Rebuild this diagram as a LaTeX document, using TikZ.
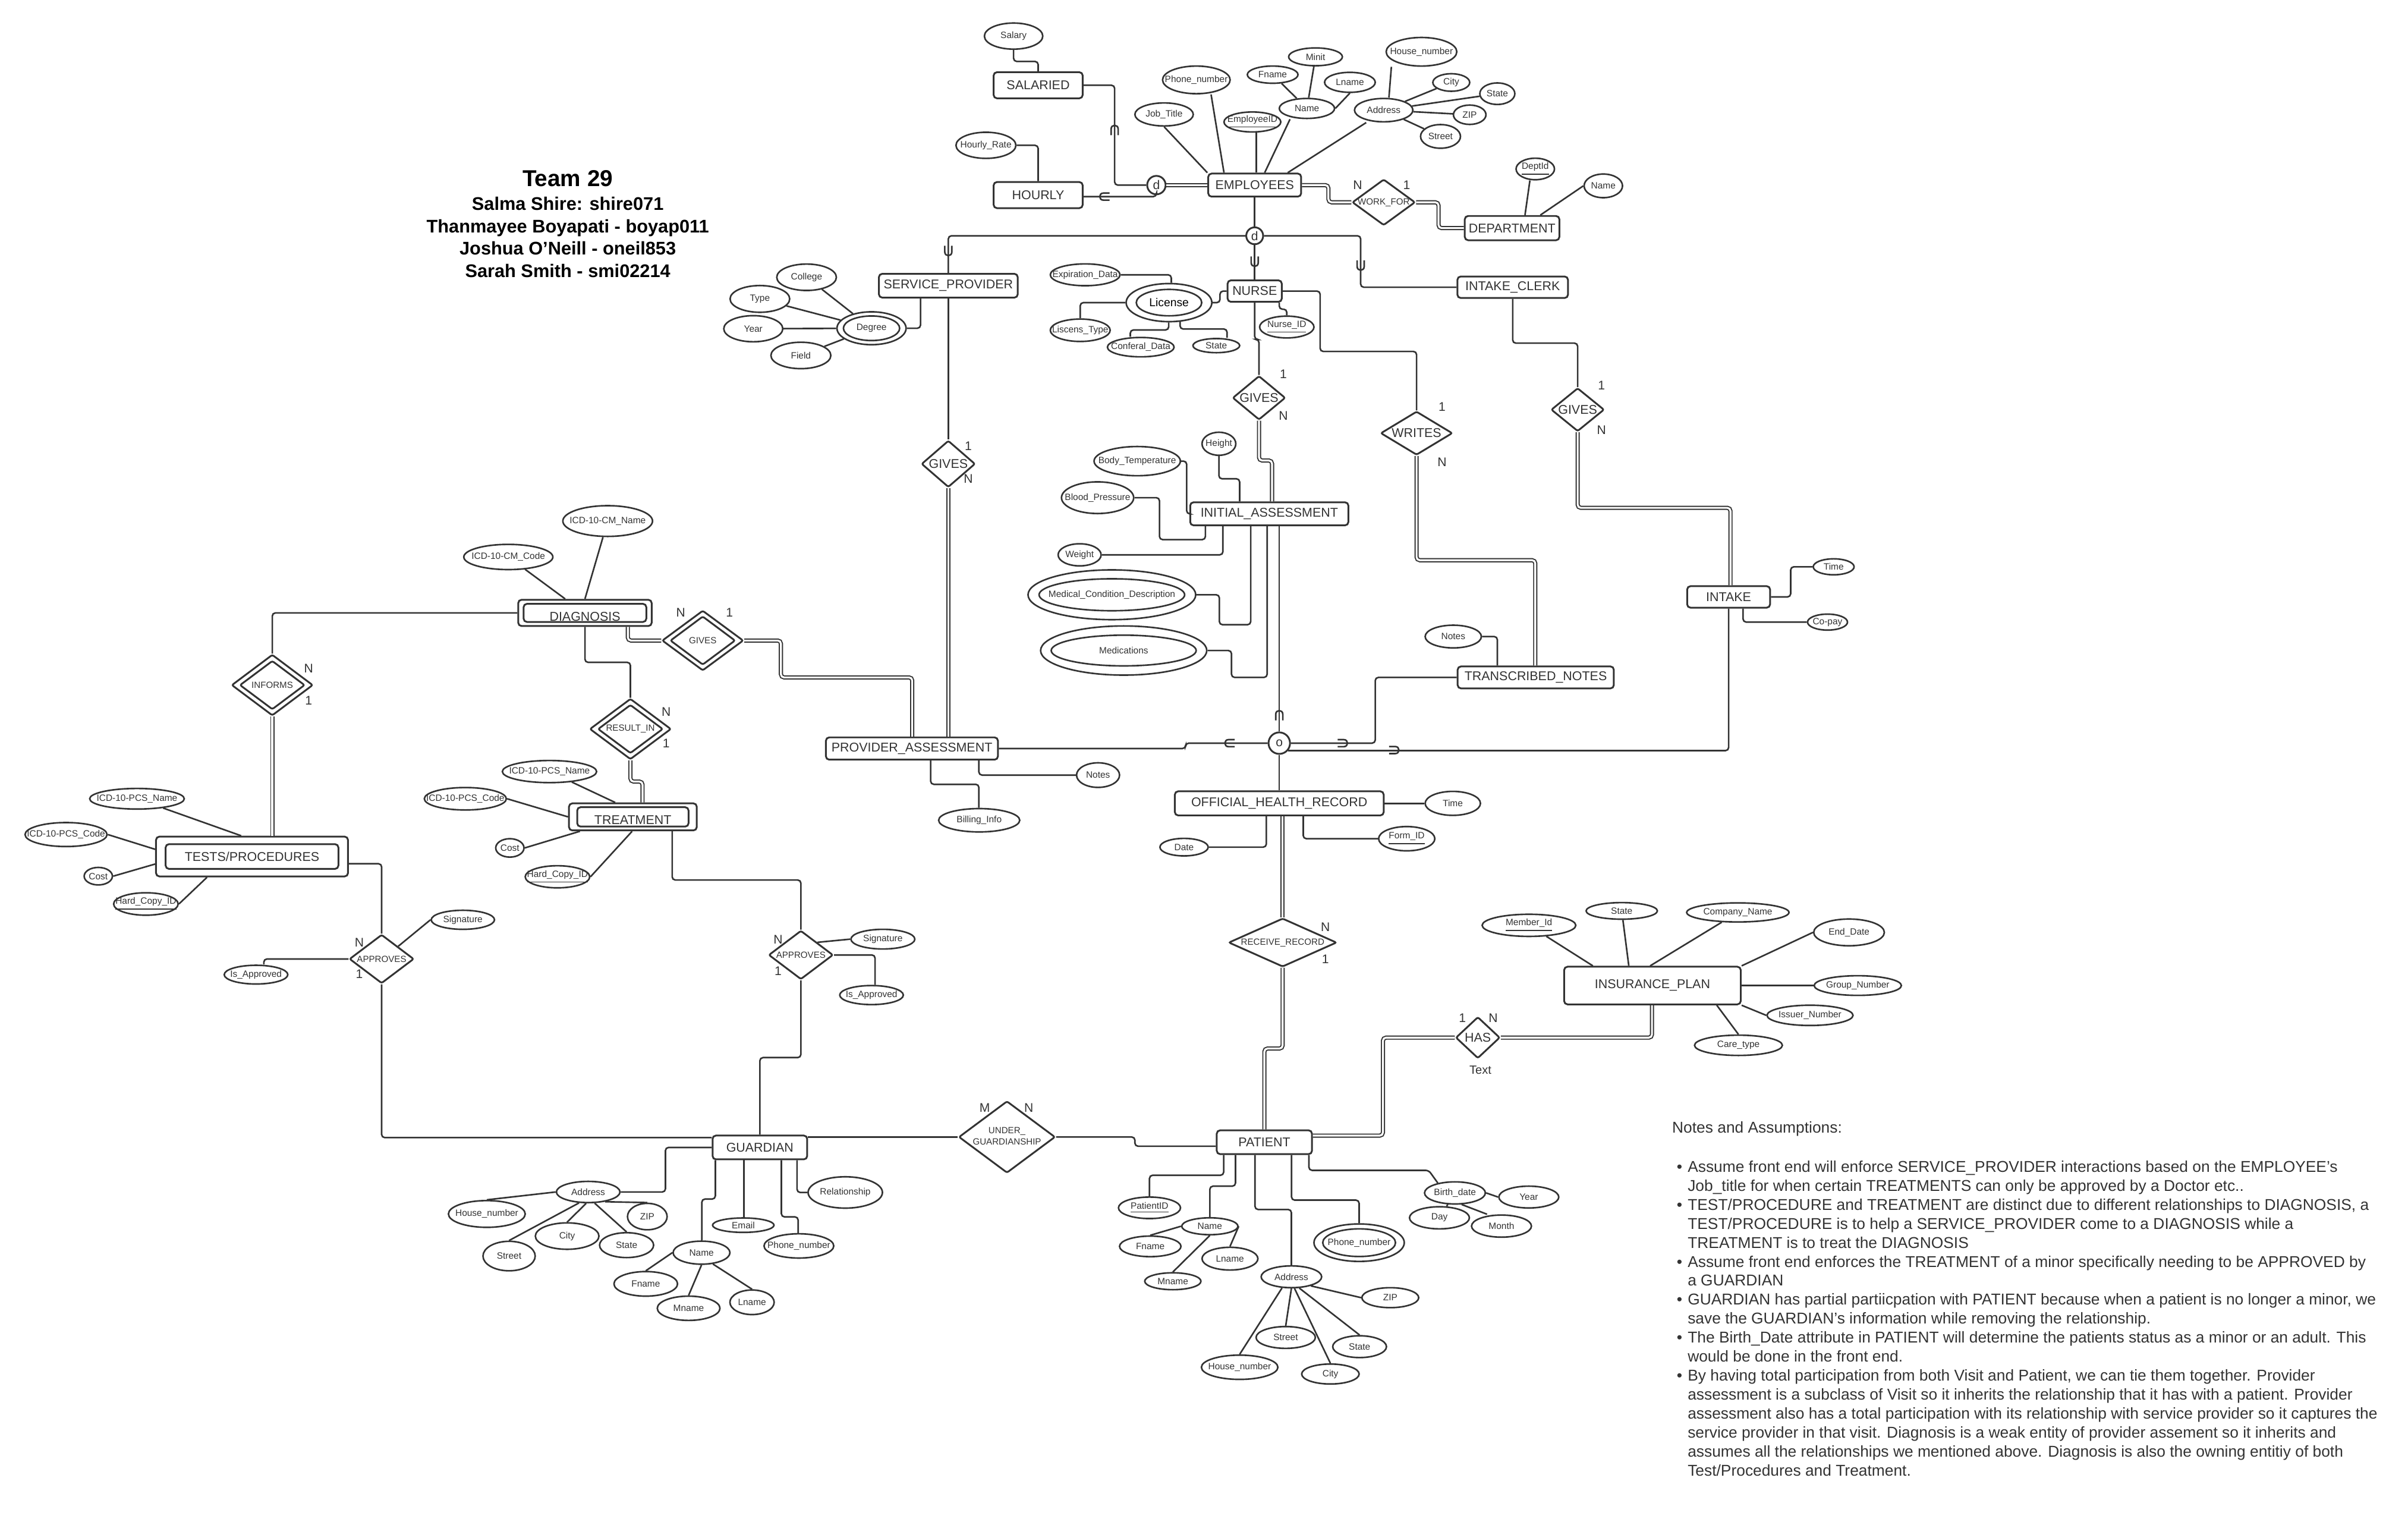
\documentclass[tikz,border=0pt]{standalone}
\usepackage{fontspec}
\setmainfont{Liberation Sans}
\usetikzlibrary{shapes.geometric}
\definecolor{ink}{RGB}{51,51,51}
\newdimen\uu
\uu=0.73508pt
\newcommand\mb[1]{\makebox[0pt]{#1}}
\newcommand\fent{\fontsize{6.1}{7.2}\selectfont}
\newcommand\fatt{\fontsize{4.4}{5.2}\selectfont}
\newcommand\fsml{\fontsize{4.3}{5.2}\selectfont}
\newcommand\fcrd{\fontsize{6}{7}\selectfont}
\newcommand\fnote{\fontsize{7.5}{9.08}\selectfont}
\newcommand\nbul{\llap{\textbullet\hspace{2.6pt}}}
\newcommand\mkent[5]{\node[ent,minimum width=#4\uu,minimum height=#5\uu] (#1) at (#2) {\mb{#3}};}
\newcommand\mkatt[5]{\node[att,minimum width=#3\uu,minimum height=#4\uu] (#1) at (#2) {\mb{#5}};}
\newcommand\mkrel[6]{\node[#6,minimum width=#3\uu,minimum height=#4\uu] (#1) at (#2) {\mb{#5}};}
\newcommand\mkcrd[3]{\node[crd] (#1) at (#2) {#3};}
\tikzset{
  ln/.style={draw=ink,line width=0.75pt,rounded corners=1.5pt},
  dl/.style={draw=ink,line width=0.55pt,double=white,double distance=0.9pt,rounded corners=1.5pt},
  ent/.style={draw=ink,line width=0.85pt,rounded corners=1.6pt,inner sep=0pt,text=ink,font=\fent},
  att/.style={draw=ink,ellipse,line width=0.75pt,inner sep=0pt,text=ink,font=\fatt},
  rel/.style={draw=ink,diamond,line width=0.85pt,rounded corners=0.8pt,inner sep=0pt,text=ink,font=\fent},
  srel/.style={rel,font=\fsml},
  crd/.style={inner sep=0pt,text=ink,font=\fcrd},
  disc/.style={draw=ink,circle,line width=0.85pt,inner sep=0pt,text=ink,font=\fontsize{6}{7}\selectfont},
  pics/subs/.style={code={\draw[draw=ink,line width=0.75pt] (-2.3,-4) -- (-2.3,0) .. controls (-2.3,3.2) and (2.3,3.2) .. (2.3,0) -- (2.3,-4);}},
}
\begin{document}
\begin{tikzpicture}[x=0.73508pt,y=-0.73508pt]
\path[use as bounding box,fill=white] (0,0) rectangle (1568,994.7);

% ---------- Title ----------
\node[anchor=base,inner sep=0pt,font=\bfseries\fontsize{11}{13}\selectfont] (tteam) at (369.7,121.5) {Team 29};
\node[anchor=base,inner sep=0pt,font=\bfseries\fontsize{8.75}{10}\selectfont] (tm1) at (369.7,137) {Salma Shire: shire071};
\node[anchor=base,inner sep=0pt,font=\bfseries\fontsize{8.75}{10}\selectfont] (tm2) at (369.7,151.4) {Thanmayee Boyapati - boyap011};
\node[anchor=base,inner sep=0pt,font=\bfseries\fontsize{8.75}{10}\selectfont] (tm3) at (369.7,165.8) {Joshua O’Neill - oneil853};
\node[anchor=base,inner sep=0pt,font=\bfseries\fontsize{8.75}{10}\selectfont] (tm4) at (369.7,180.4) {Sarah Smith - smi02214};

% ---------- EMPLOYEES ----------
\mkent{emp}{817,120.5}{EMPLOYEES}{60.5}{15}
\mkent{sal}{676,55.5}{SALARIED}{58}{17}
\mkent{hourly}{676,127}{HOURLY}{58}{17}
\mkatt{salary}{660,23.5}{38}{17}{Salary}
\mkatt{hrate}{642,94.6}{39}{17}{Hourly\_Rate}
\node[disc,minimum size=12\uu] (d1) at (753,120.5) {d};
\mkatt{jobt}{758,74.5}{38}{15}{Job\_Title}
\mkatt{phone}{779,52}{44}{18}{Phone\_number}
\mkatt{empid}{815.5,79.4}{37}{13}{\underline{EmployeeID}}
\mkatt{ename}{851,70.6}{36}{13}{Name}
\mkatt{efname}{828.7,48.6}{33}{11.2}{Fname}
\mkatt{eminit}{856.6,37}{35}{11.6}{Minit}
\mkatt{elname}{879,53.6}{33}{13}{Lname}
\mkatt{eaddr}{901,71.7}{38}{15.2}{Address}
\mkatt{ehouse}{925.6,33.7}{46}{18.6}{House\_number}
\mkatt{ecity}{945,53.7}{24}{11.4}{City}
\mkatt{estate}{975,61}{22.8}{14}{State}
\mkatt{ezip}{957,74.7}{21.2}{12.6}{ZIP}
\mkatt{estreet}{938,88.8}{26}{15.4}{Street}
\mkrel{wf}{901,131.7}{41}{30}{WORK\_FOR}{srel}
\mkent{dept}{984.6,148.5}{DEPARTMENT}{61.6}{15.8}
\mkatt{deptid}{999.7,110}{25}{14}{\underline{DeptId}}
\mkatt{dname}{1044,121}{25}{15.4}{Name}
\mkcrd{k1}{884,120.6}{N}
\mkcrd{k2}{916,120.6}{1}

\draw[ln] (salary.south) |- (676,40) -- (sal.north);
\draw[ln] (hrate.east) -| (hourly.north);
\draw[ln] (sal.east) -| (725.8,120.5) -- (d1.west);
\draw[ln] (hourly.east |- 0,128) -| (d1.south);
\draw[dl] (d1.east) -- (emp.west);
\pic[rotate=180] at (725.8,84) {subs};
\pic[rotate=-90] at (718.5,128) {subs};
\draw[ln] (jobt.south) -- (emp.north west);
\draw[ln] (phone.south -| 788.6,0) -- (emp.north -| 797,0);
\draw[ln] (empid.south -| 818,0) -- (emp.north -| 818,0);
\draw[ln] (ename.south -| 840,0) -- (emp.north -| 823.5,0);
\draw[ln] (eaddr.south -| 889.6,0) -- (emp.north -| 838.5,0);
\draw[ln] (efname) -- (ename);
\draw[ln] (eminit) -- (ename);
\draw[ln] (elname.south) -- (ename.east);
\draw[ln] (ehouse.south -| 906,0) -- (eaddr.north -| 904.4,0);
\draw[ln] (ecity) -- (eaddr);
\draw[ln] (estate) -- (eaddr);
\draw[ln] (ezip) -- (eaddr);
\draw[ln] (estreet) -- (eaddr);
\draw[dl] (emp.east) -| (865,131.7) -- (wf.west);
\draw[dl] (wf.east) -| (936.7,148.5) -- (dept.west);
\draw[ln] (deptid.south -| 996.2,0) -- (dept.north -| 993,0);
\draw[ln] (dname.west) -- (dept.north -| 1003,0);

% ---------- specialization ----------
\node[disc,minimum size=11\uu] (d2) at (817,153.5) {d};
\mkent{sp}{617.5,186}{SERVICE\_PROVIDER}{90.4}{15.5}
\mkent{nurse}{817,189.5}{NURSE}{35.3}{14}
\mkent{ic}{985,187}{INTAKE\_CLERK}{72}{14}
\draw[ln] (emp.south) -- (d2.north);
\draw[ln] (d2.west) -| (sp.north);
\draw[ln] (d2.south) -- (nurse.north);
\draw[ln] (d2.east) -| (886,187) -- (ic.west);
\pic at (617.5,164) {subs};
\pic at (817,171) {subs};
\pic at (886,173.5) {subs};

% ---------- SERVICE_PROVIDER ----------
\mkatt{deg}{567.5,213.7}{45}{21.4}{}
\mkatt{degI}{567.5,213.7}{36.6}{16}{Degree}
\mkatt{college}{525.2,180.5}{38.8}{17.2}{College}
\mkatt{ttype}{494.8,194.6}{38.8}{17.4}{Type}
\mkatt{year}{490.5,214}{38.4}{17}{Year}
\mkatt{field}{521.5,231.4}{39}{17.2}{Field}
\mkrel{gsp}{617.5,302}{35}{30.4}{GIVES}{rel}
\mkcrd{k3}{630.5,290.2}{1}
\mkcrd{k4}{630.5,311.6}{N}
\draw[ln] (deg.east) -| (sp.south -| 599.4,0);
\draw[ln] (college) -- (deg);
\draw[ln] (ttype) -- (deg);
\draw[ln] (year) -- (deg);
\draw[ln] (field) -- (deg);
\draw[ln] (sp.south) -- (gsp.north);

% ---------- NURSE ----------
\mkatt{lic}{761.2,197}{55.8}{24.8}{}
\node[att,minimum width=42.6\uu,minimum height=17.2\uu,text=black,font=\fontsize{5.5}{6.5}\selectfont] (licI) at (761.2,197) {\mb{License}};
\mkatt{expd}{706.6,178.9}{45.4}{14.2}{Expiration\_Data}
\mkatt{ltype}{703.4,215}{39}{14.6}{Liscens\_Type}
\mkatt{cdata}{742.8,226}{43.4}{12.6}{Conferal\_Data}
\mkatt{lstate}{792,225}{30.4}{9.2}{State}
\mkatt{nid}{837.9,212.9}{35.4}{14.2}{\underline{Nurse\_ID}}
\draw[ln] (lic.east) -| (794.4,189.5) -- (nurse.west);
\draw[ln] (expd.east) -| (lic.north -| 762.7,0);
\draw[ln] (ltype.north) |- (lic.west);
\draw[ln] (cdata.north -| 736,0) |- (761,214.8) -- (lic.south -| 761,0);
\draw[ln] (lic.-60) |- (799,214.2) -- (lstate.north -| 799,0);
\draw[ln] (nurse.south -| 833,0) |- (837.9,201.3) -- (nid.north);
\mkrel{gn}{819.8,259}{34.4}{28.6}{GIVES}{rel}
\mkcrd{k5}{835.7,243.4}{1}
\mkcrd{k6}{835.7,270.6}{N}
\draw[ln] (nurse.south) |- (819.8,221) -- (gn.north);

% ---------- INITIAL_ASSESSMENT ----------
\mkent{ia}{826.5,334.5}{INITIAL\_ASSESSMENT}{103}{15}
\mkatt{height}{793.7,288.9}{22}{15}{Height}
\mkatt{btemp}{740.5,300.2}{56.2}{19}{Body\_Temperature}
\mkatt{bp}{714.7,324}{47}{20.6}{Blood\_Pressure}
\mkatt{weight}{703,361.2}{28}{14.4}{Weight}
\mkatt{mcd}{724,387.2}{109.2}{32.4}{}
\mkatt{mcdI}{724,387.2}{94.8}{20.8}{Medical\_Condition\_Description}
\mkatt{meds}{731.7,423.5}{108.2}{32}{}
\mkatt{medsI}{731.7,423.5}{94.4}{20}{Medications}
\draw[dl] (gn.south) |- (828.3,299.8) -- (ia.north -| 828.3,0);
\draw[ln] (height.south) |- (807.2,311.7) -- (ia.north -| 807.2,0);
\draw[ln] (btemp.east) -| (772.7,334.5) -- (ia.west);
\draw[ln] (bp.east) -| (755,351.3) -| (ia.south -| 784.9,0);
\draw[ln] (weight.east) -| (ia.south -| 796.3,0);
\draw[ln] (mcd.east) -| (794,406.7) -| (ia.south -| 814.4,0);
\draw[ln] (meds.east) -| (801.9,441) -| (ia.south -| 825.1,0);

% ---------- WRITES / TRANSCRIBED_NOTES ----------
\mkrel{wr}{922.4,282}{46.8}{28.4}{WRITES}{rel}
\mkcrd{k7}{939,264.8}{1}
\mkcrd{k8}{939,301}{N}
\mkent{tn}{1000,441}{TRANSCRIBED\_NOTES}{101.7}{14.3}
\mkatt{tnnotes}{946.3,414.4}{36.6}{14.8}{Notes}
\draw[ln] (nurse.east) -| (859.6,228.8) -| (wr.north);
\draw[dl] (wr.south) |- (999.7,364.7) -- (tn.north -| 999.7,0);
\draw[ln] (tnnotes.east) -| (tn.north -| 975,0);

% ---------- INTAKE ----------
\mkrel{gc}{1027.3,266.7}{34.6}{28.2}{GIVES}{rel}
\mkcrd{k9}{1042.8,251}{1}
\mkcrd{k10}{1042.8,280}{N}
\mkent{intake}{1125.6,388.6}{INTAKE}{54}{14}
\mkatt{itime}{1194,369}{26.6}{10.4}{Time}
\mkatt{copay}{1190,405}{26}{10.4}{Co-pay}
\draw[ln] (ic.south) |- (1027.3,223.4) -- (gc.north);
\draw[dl] (gc.south) |- (1126.8,330.6) -- (intake.north -| 1126.8,0);
\draw[ln] (intake.east) -| (1166,369) -- (itime.west);
\draw[ln] (intake.south -| 1135,0) |- (copay.west);

% ---------- overlap circle ----------
\node[disc,minimum size=14\uu] (oc) at (833,483.8) {o};
\mkent{pa}{593.8,487.3}{PROVIDER\_ASSESSMENT}{112}{14.5}
\mkatt{panotes}{715,504.6}{28}{16}{Notes}
\mkatt{bill}{637.6,534}{52.8}{15.2}{Billing\_Info}
\draw[ln] (ia.south -| 833,0) -- (oc.north);
\pic[rotate=180] at (833,465) {subs};
\draw[ln] (tn.west) -| (895.5,483.8) -- (oc.east);
\pic[rotate=90] at (875,483.8) {subs};
\draw[ln] (intake.south) |- (oc.-40);
\pic[rotate=90] at (908.5,488.3) {subs};
\draw[ln] (pa.east) -| (772,483.8) -- (oc.west);
\pic[rotate=-90] at (800,483.8) {subs};
\draw[dl] (gsp.south) -- (pa.north -| gsp.south);
\draw[ln] (pa.south -| 637.4,0) |- (panotes.west);
\draw[ln] (pa.south -| 606,0) |- (637.4,510.6) -- (bill.north -| 637.4,0);

% ---------- OFFICIAL_HEALTH_RECORD ----------
\mkent{ohr}{833,523}{OFFICIAL\_HEALTH\_RECORD}{136}{15.7}
\mkatt{otime}{946,523}{36}{15.6}{Time}
\mkatt{formid}{916,546}{36.6}{15.8}{\underline{Form\_ID}}
\mkatt{date}{771,551.5}{31.4}{11.4}{Date}
\mkrel{rr}{835.2,613.6}{70.4}{31.6}{RECEIVE\_RECORD}{srel}
\mkcrd{k11}{863,603.5}{N}
\mkcrd{k12}{863,624.4}{1}
\draw[ln] (oc.south) -- (ohr.north);
\draw[ln] (ohr.east) -- (otime.west);
\draw[ln] (ohr.south -| 848.6,0) |- (formid.west);
\draw[ln] (ohr.south -| 824.6,0) |- (date.east);
\draw[dl] (ohr.south -| rr.north) -- (rr.north);

% ---------- PATIENT / INSURANCE ----------
\mkent{pat}{823.3,743.6}{PATIENT}{62}{15.5}
\mkrel{has}{962.3,675.5}{28.8}{27}{HAS}{rel}
\mkcrd{k13}{952.3,662.8}{1}
\mkcrd{k14}{972.3,662.8}{N}
\node[crd,font=\fontsize{5.7}{6.5}\selectfont] (hastext) at (964,696.7) {Text};
\mkent{ip}{1076,641.6}{INSURANCE\_PLAN}{115}{24.5}
\mkatt{memid}{995.6,602.4}{61}{14.4}{\underline{Member\_Id}}
\mkatt{ipstate}{1056,593}{46.4}{10.8}{State}
\mkatt{comp}{1131.6,594}{66.6}{12.4}{Company\_Name}
\mkatt{enddate}{1204,607}{46}{17.4}{End\_Date}
\mkatt{grp}{1209.7,641.6}{56.8}{12.8}{Group\_Number}
\mkatt{issuer}{1178.6,661}{56}{13.2}{Issuer\_Number}
\mkatt{caret}{1132,680.5}{57.2}{13.2}{Care\_type}
\draw[dl] (rr.south) |- (823.3,682.6) -- (pat.north);
\draw[dl] (pat.east |- 0,739.3) -| (900.5,675.5) -- (has.west);
\draw[dl] (has.east) -| (ip.south -| 1075.7,0);
\draw[ln] (memid) -- (ip.north -| 1037.2,0);
\draw[ln] (ipstate) -- (ip.north -| 1060.6,0);
\draw[ln] (comp) -- (ip.north -| 1074.5,0);
\draw[ln] (enddate.west) -- (ip.north east);
\draw[ln] (ip.east) -- (grp.west);
\draw[ln] (ip.south east) -- (issuer.west);
\draw[ln] (caret.north) -- (ip.south -| 1117.9,0);

% ---------- PATIENT attributes ----------
\mkatt{pid}{748.5,786.3}{40.4}{14}{\underline{PatientID}}
\mkatt{pname}{787.8,798.3}{36.6}{11}{Name}
\mkatt{pfname}{749,811.4}{40}{13.4}{Fname}
\mkatt{pmname}{763.7,834.1}{36.6}{11}{Mname}
\mkatt{plname}{800.9,819.4}{36.4}{14.8}{Lname}
\mkatt{paddr}{840.9,831.2}{39.4}{14.2}{Address}
\mkatt{phouse}{807.2,890.1}{49.8}{15.8}{House\_number}
\mkatt{pstreet}{837.2,870.7}{38.6}{14.2}{Street}
\mkatt{pcity}{866.3,894.5}{37.4}{13}{City}
\mkatt{pstate}{885.3,876.7}{35}{14.2}{State}
\mkatt{pzip}{905.3,844.8}{37}{13}{ZIP}
\mkatt{pphone}{885,809}{58.8}{24.4}{}
\mkatt{pphoneI}{885,809}{47.4}{18}{Phone\_number}
\mkatt{bdate}{947.4,776.6}{39.6}{14.4}{Birth\_date}
\mkatt{pyear}{995.5,779.3}{39}{14.2}{Year}
\mkatt{pday}{937.3,792.8}{39}{14.4}{Day}
\mkatt{pmonth}{977.7,798.2}{39}{14.4}{Month}
\draw[ln] (pat.south -| 796.8,0) |- (748.5,765.1) -- (pid.north);
\draw[ln] (pat.south -| 804.5,0) |- (787.8,772.2) -- (pname.north);
\draw[ln] (pname.west) -- (pfname.north);
\draw[ln] (pname.south) -- (pmname.north);
\draw[ln] (pname.east) -- (plname.north);
\draw[ln] (pat.south -| 817.2,0) |- (840.9,787.4) -- (paddr.north);
\draw[ln] (paddr.-130) -- (phouse.north);
\draw[ln] (paddr.south) -- (pstreet.north);
\draw[ln] (paddr.-75) -- (pcity.north);
\draw[ln] (paddr.-55) -- (pstate.north);
\draw[ln] (paddr.-25) -- (pzip.west);
\draw[ln] (pat.south -| 841,0) |- (885,781.3) -- (pphone.north);
\draw[ln] (pat.south -| 852.3,0) |- (930.3,761.9) -- (bdate.150);
\draw[ln] (bdate.east) -- (pyear.west);
\draw[ln] (bdate) -- (pday);
\draw[ln] (bdate.-60) -- (pmonth.north -| 968.3,0);

% ---------- DIAGNOSIS ----------
\node[ent,minimum width=86.9\uu,minimum height=17.1\uu] (diag) at (380.9,399) {};
\node[ent,minimum width=79.9\uu,minimum height=11.8\uu] (diagI) at (380.9,399) {};
\node[inner sep=0pt,text=ink,font=\fent] (diagT) at (380.9,401.5) {DIAGNOSIS};
\mkatt{cmname}{395.7,339.2}{58.4}{20}{ICD-10-CM\_Name}
\mkatt{cmcode}{331,362.6}{58}{16.4}{ICD-10-CM\_Code}
\mkrel{gd}{457.6,417}{53}{39.2}{}{rel}
\mkrel{gdI}{457.6,417}{42.4}{31.7}{GIVES}{srel}
\mkcrd{k15}{443.3,398.9}{N}
\mkcrd{k16}{475,398.9}{1}
\mkrel{inf}{177.3,446}{53}{39.8}{}{rel}
\mkrel{infI}{177.3,446}{42.4}{31.8}{INFORMS}{srel}
\mkcrd{k17}{201,435}{N}
\mkcrd{k18}{201,456}{1}
\mkrel{ri}{410.5,474.6}{53}{39.6}{}{rel}
\mkrel{riI}{410.5,474.6}{42.4}{31.7}{RESULT\_IN}{srel}
\mkcrd{k19}{433.8,463.3}{N}
\mkcrd{k20}{433.8,484}{1}
\draw[ln] (cmname) -- (diag.north);
\draw[ln] (cmcode) -- (diag.north -| 368,0);
\draw[dl] (diag.south -| 408.8,0) |- (gd.west);
\draw[dl] (gd.east) -| (508.5,441) -| (pa.north -| 594,0);
\draw[ln] (diag.west) -| (inf.north);
\draw[ln] (diag.south) |- (410.5,431.2) -- (ri.north);

% ---------- TREATMENT ----------
\node[ent,minimum width=83.2\uu,minimum height=17.6\uu] (treat) at (412.1,531.8) {};
\node[ent,minimum width=72.5\uu,minimum height=12.6\uu] (treatI) at (412.1,531.8) {};
\node[inner sep=0pt,text=ink,font=\fent] (treatT) at (412.1,533.8) {TREATMENT};
\mkatt{tpcsname}{357.8,502.3}{61.4}{14.4}{ICD-10-PCS\_Name}
\mkatt{tpcscode}{303,520}{53.4}{14.6}{ICD-10-PCS\_Code}
\mkatt{tcost}{332,552}{18.4}{12}{Cost}
\mkatt{thcid}{363,570.8}{42}{14.4}{\underline{Hard\_Copy\_ID}}
\draw[dl] (ri.south) |- (418.4,508.8) -- (treat.north -| 418.4,0);
\draw[ln] (tpcsname) -- (treat.north -| 400.6,0);
\draw[ln] (tpcscode.east) -- (treat.west);
\draw[ln] (tcost.east) -- (treat.south -| 377.6,0);
\draw[ln] (thcid.east) -- (treat.south -| 411.6,0);

% ---------- TESTS/PROCEDURES ----------
\node[ent,minimum width=125\uu,minimum height=25.9\uu] (tp) at (164.1,557.6) {};
\node[ent,minimum width=112.5\uu,minimum height=16.1\uu] (tpI) at (164.1,557.6) {\mb{TESTS/PROCEDURES}};
\mkatt{ppcsname}{89.2,520}{61.6}{13.4}{ICD-10-PCS\_Name}
\mkatt{ppcscode}{43,543.3}{53.4}{15.6}{ICD-10-PCS\_Code}
\mkatt{pcost}{64,570.4}{18.4}{11.4}{Cost}
\mkatt{phcid}{95,588.5}{42}{14.6}{\underline{Hard\_Copy\_ID}}
\draw[dl] (inf.south) -- (tp.north -| inf.south);
\draw[ln] (ppcsname) -- (tp.north -| 157,0);
\draw[ln] (ppcscode.east) -- (tp.west |- 0,552.9);
\draw[ln] (pcost.east) -- (tp.west |- 0,562.5);
\draw[ln] (phcid.east) -- (tp.south -| 134.8,0);

% ---------- APPROVES ----------
\mkrel{ap1}{248.5,624.3}{42}{31.8}{APPROVES}{srel}
\mkatt{sig1}{301.4,598.8}{41.2}{12.4}{Signature}
\mkatt{isap1}{166.7,634.5}{41.4}{12.2}{Is\_Approved}
\mkcrd{k21}{234,613.5}{N}
\mkcrd{k22}{234,634}{1}
\mkrel{ap2}{521.5,621.7}{42}{31.8}{APPROVES}{srel}
\mkatt{sig2}{574.9,611.4}{41.6}{12.8}{Signature}
\mkatt{isap2}{567.5,647.8}{41.4}{12.4}{Is\_Approved}
\mkcrd{k23}{506.7,611.5}{N}
\mkcrd{k24}{506.7,632.3}{1}
\draw[ln] (tp.east |- 0,562.3) -| (ap1.north);
\draw[ln] (sig1.west) -- (ap1.north east);
\draw[ln] (ap1.west) -| (isap1.north -| 171.8,0);
\draw[ln] (treat.south -| 437.7,0) |- (ap2.north |- 0,572.9) -- (ap2.north);
\draw[ln] (sig2.west) -- (ap2.north east);
\draw[ln] (ap2.east) -| (isap2.north -| 569.8,0);

% ---------- GUARDIAN ----------
\mkent{guard}{494.8,747}{GUARDIAN}{61.6}{15.5}
\node[srel,minimum width=62.8\uu,minimum height=46.8\uu] (ug) at (655.7,740.2) {\mb{\begin{tabular}{@{}c@{}}UNDER\_\\GUARDIANSHIP\end{tabular}}};
\mkcrd{k25}{641.2,721.3}{M}
\mkcrd{k26}{669.9,721.3}{N}
\draw[ln] (ap1.south) |- (guard.west |- 0,740.6);
\draw[ln] (ap2.south) |- (guard.north |- 0,688.5) -- (guard.north);
\draw[ln] (guard.east |- ug.west) -- (ug.west);
\draw[ln] (ug.east) -| (739,746.2) -- (pat.west |- 0,746.2);
\mkatt{gaddr}{383,776}{41.4}{13.8}{Address}
\mkatt{ghouse}{317,790.3}{50}{17.4}{House\_number}
\mkatt{gzip}{421.5,792}{25.8}{17.2}{ZIP}
\mkatt{gcity}{369.3,804.7}{41.4}{17.2}{City}
\mkatt{gstate}{408,810.6}{35.2}{16.2}{State}
\mkatt{gstreet}{331.5,817.7}{34}{19.2}{Street}
\mkatt{gname}{456.8,815.5}{37}{15}{Name}
\mkatt{gfname}{420.5,835.8}{41.4}{16}{Fname}
\mkatt{gmname}{448.4,851.7}{40.8}{15.8}{Mname}
\mkatt{glname}{489.7,847.8}{28.8}{16}{Lname}
\mkatt{gemail}{484,797.6}{40}{9.4}{Email}
\mkatt{gphone}{520.2,811.1}{45.4}{15.8}{Phone\_number}
\mkatt{grel}{550.4,776.3}{48.4}{20.4}{Relationship}
\draw[ln] (gaddr.east) -| (433.3,747) -- (guard.west);
\draw[ln] (gaddr.west) -- (ghouse.north);
\draw[ln] (gaddr.-30) -- (gzip.north);
\draw[ln] (gaddr.-100) -- (gcity.north);
\draw[ln] (gaddr.-60) -- (gstate.north);
\draw[ln] (gaddr.-130) -- (gstreet.north);
\draw[ln] (guard.south -| 465.8,0) |- (457,780.6) -- (gname.north -| 457,0);
\draw[ln] (gname.west) -- (gfname.north);
\draw[ln] (gname.south) -- (gmname.north);
\draw[ln] (gname.-45) -- (glname.north);
\draw[ln] (guard.south -| 484.3,0) -- (gemail.north -| 484.3,0);
\draw[ln] (guard.south -| 508.8,0) |- (519.7,792.2) -- (gphone.north -| 519.7,0);
\draw[ln] (guard.south -| 519,0) |- (grel.west);

% ---------- Notes ----------
\node[anchor=base west,inner sep=0pt,text=ink,font=\fnote] (notesT) at (1088.6,737.6) {Notes and Assumptions:};
\node[anchor=north west,inner sep=0pt,text=ink,font=\fnote,align=left] (notesB) at (1098.7,755.4) {%
\nbul Assume front end will enforce SERVICE\_PROVIDER interactions based on the EMPLOYEE's\\
Job\_title for when certain TREATMENTS can only be approved by a Doctor etc..\\
\nbul TEST/PROCEDURE and TREATMENT are distinct due to different relationships to DIAGNOSIS, a\\
TEST/PROCEDURE is to help a SERVICE\_PROVIDER come to a DIAGNOSIS while a\\
TREATMENT is to treat the DIAGNOSIS\\
\nbul Assume front end enforces the TREATMENT of a minor specifically needing to be APPROVED by\\
a GUARDIAN\\
\nbul GUARDIAN has partial partiicpation with PATIENT because when a patient is no longer a minor, we\\
save the GUARDIAN's information while removing the relationship.\\
\nbul The Birth\_Date attribute in PATIENT will determine the patients status as a minor or an adult. This\\
would be done in the front end.\\
\nbul By having total participation from both Visit and Patient, we can tie them together. Provider\\
assessment is a subclass of Visit so it inherits the relationship that it has with a patient. Provider\\
assessment also has a total participation with its relationship with service provider so it captures the\\
service provider in that visit. Diagnosis is a weak entity of provider assement so it inherits and\\
assumes all the relationships we mentioned above. Diagnosis is also the owning entitiy of both\\
Test/Procedures and Treatment.};
\end{tikzpicture}
\end{document}
